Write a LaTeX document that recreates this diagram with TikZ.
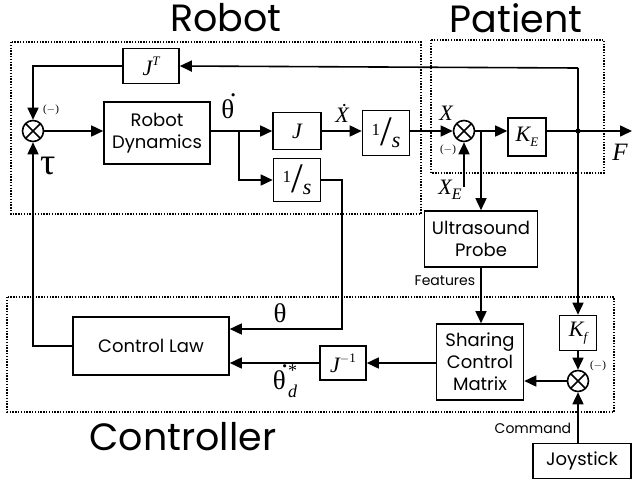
\documentclass[tikz,border=0pt]{standalone}
\usepackage{fontspec}
\setmainfont{Poppins}
\newfontfamily\tms{Liberation Serif}
\usetikzlibrary{arrows.meta}
\newcommand\myboxfont{\fontsize{18}{22}\selectfont}
\newcommand\mytitlefont{\fontsize{38}{40}\selectfont}
\newcommand\mymath{\tms\fontsize{22}{22}\selectfont}
\newcommand\mysmall{\tms\fontsize{11}{11}\selectfont}
\newcommand\myinv{{\tms\raisebox{.42em}{\fontsize{17}{17}\selectfont 1}\raisebox{-.12em}{\fontsize{42}{42}\selectfont/}\raisebox{-.25em}{\fontsize{22}{22}\selectfont\itshape s}}}
\newcommand\mythdot{θ\kern-.16em\raisebox{.8em}{.}}
\begin{document}
\begin{tikzpicture}[x=1pt,y=-1pt, line width=1.6pt,
  blk/.style={draw, line width=1.6pt, inner sep=0pt, align=center, font=\myboxfont},
  sumc/.style={circle, draw, line width=1.6pt, minimum size=21pt, inner sep=0pt,
    path picture={\draw[line width=1.6pt] (path picture bounding box.north west) -- (path picture bounding box.south east)
      (path picture bounding box.south west) -- (path picture bounding box.north east);}},
  arr/.style={-{Triangle[length=12pt,width=11pt]}},
  grp/.style={draw, line width=1.3pt, dash pattern=on 1.4pt off 1.4pt},
  lbl/.style={inner sep=0pt}]
\useasboundingbox (0,0) rectangle (632,485);
% group boxes
\draw[grp] (11,42) rectangle (421,214);
\draw[grp] (431,40) rectangle (604,173);
\draw[grp] (7,297) rectangle (614,412);
\node[lbl, font=\mytitlefont] (trobot) at (226,18) {Robot};
\node[lbl, font=\mytitlefont] (tpat) at (516,18) {Patient};
\node[lbl, font=\mytitlefont] (tctl) at (183,437) {Controller};
% blocks
\node[blk, minimum width=56, minimum height=35] (JT) at (151,66) {\mymath\itshape J\raisebox{.45em}{\fontsize{13}{13}\selectfont T}};
\node[sumc] (s1) at (33,131) {};
\node[blk, minimum width=106, minimum height=62] (RD) at (157,133) {Robot\\Dynamics};
\node[blk, minimum width=48, minimum height=37] (J) at (297,131) {\mymath\itshape J};
\node[blk, minimum width=47, minimum height=43] (i1) at (297,180) {\myinv};
\node[blk, minimum width=47, minimum height=45] (i2) at (386,133) {\myinv};
\node[sumc] (s2) at (464,131) {};
\node[blk, minimum width=38, minimum height=38] (KE) at (527,137) {\mymath\itshape K\raisebox{-.25em}{\fontsize{13}{13}\selectfont E}};
\node[blk, minimum width=113, minimum height=56] (US) at (481,239) {Ultrasound\\Probe};
\node[blk, minimum width=87, minimum height=76] (SCM) at (480,362) {Sharing\\Control\\Matrix};
\node[blk, minimum width=37, minimum height=35] (Kf) at (578,333) {\mymath\itshape K\raisebox{-.25em}{\fontsize{13}{13}\selectfont f}};
\node[sumc] (s3) at (578,381) {};
\node[blk, minimum width=46, minimum height=34] (Ji) at (343,363) {\mymath\itshape J\raisebox{.45em}{\upshape\fontsize{13}{13}\selectfont $-$1}};
\node[blk, minimum width=156, minimum height=58] (CL) at (151,346) {Control Law};
\node[blk, minimum width=98, minimum height=35] (Joy) at (582,461) {Joystick};
% coordinates
\coordinate (tr) at (578,68);
\coordinate (dot) at (578,131);
\coordinate (b1) at (239,131);
\coordinate (b2) at (481,131);
\coordinate (Fend) at (632,131);
\coordinate (xe) at (464,187);
\coordinate (c2) at (342,329);
% connectors
\draw[arr] (tr) -- (JT.east);
\draw[arr] (tr) -- (Kf.north);
\draw[arr] (JT.west) -| (s1.north);
\draw[arr] (s1.east) -- (RD.west |- s1);
\draw (RD.east |- b1) -- (b1);
\draw[arr] (b1) -- (J.west);
\draw[arr] (b1) |- (i1.west);
\draw[arr] (J.east) -- (i2.west |- J);
\draw[arr] (i2.east |- s2) -- (s2.west);
\draw[arr] (s2.east) -- (KE.west |- s2);
\draw[arr] (b2) -- (US.north);
\draw[arr] (KE.east |- s2) -- (Fend);
\fill (dot) circle (2.6pt);
\draw[arr] (xe) -- (s2.south);
\draw[arr] (i1.east) -| (c2) -- (CL.east |- c2);
\draw[arr] (Ji.west) -- (CL.east |- Ji);
\draw[arr] (SCM.west |- Ji) -- (Ji.east);
\draw[arr] (US.south) -- (SCM.north -| US.south);
\draw[arr] (Kf.south) -- (s3.north);
\draw[arr] (s3.west) -- (SCM.east |- s3);
\draw[arr] (s3 |- Joy.north) -- (s3.south);
\draw[arr] (CL.west) -| (s1.south);
% labels
\node[lbl, font=\mysmall] (m1) at (51,110) {($-$)};
\node[lbl, font=\mysmall] (m2) at (448,150) {($-$)};
\node[lbl, font=\mysmall] (m3) at (598,366) {($-$)};
\node[lbl, font=\tms\fontsize{27}{27}\selectfont] (thd) at (229,106) {\mythdot};
\node[lbl, font=\mymath\itshape] (xd) at (342,113) {Ẋ};
\node[lbl, font=\mymath\itshape] (xl) at (446,113) {X};
\node[lbl, font=\mymath\itshape] (xel) at (450,190) {X\raisebox{-.25em}{\fontsize{16}{16}\selectfont E}};
\node[lbl, font=\tms\fontsize{25}{25}\selectfont\itshape] (fl) at (620,152) {F};
\node[lbl, font=\tms\fontsize{38}{38}\selectfont] (tau) at (48,166) {τ};
\node[lbl, font=\tms\fontsize{27}{27}\selectfont] (th) at (280,313) {θ};
\node[lbl, font=\tms\fontsize{27}{27}\selectfont] (thds) at (285,381) {\mythdot\rlap{\raisebox{.45em}{\fontsize{18}{18}\selectfont *}}\raisebox{-.3em}{\fontsize{18}{18}\selectfont\itshape d}};
\node[lbl, font=\fontsize{14}{14}\selectfont, anchor=east] (feat) at (476,281) {Features};
\node[lbl, font=\fontsize{14}{14}\selectfont, anchor=east] (cmd) at (572,428) {Command};
\end{tikzpicture}
\end{document}
